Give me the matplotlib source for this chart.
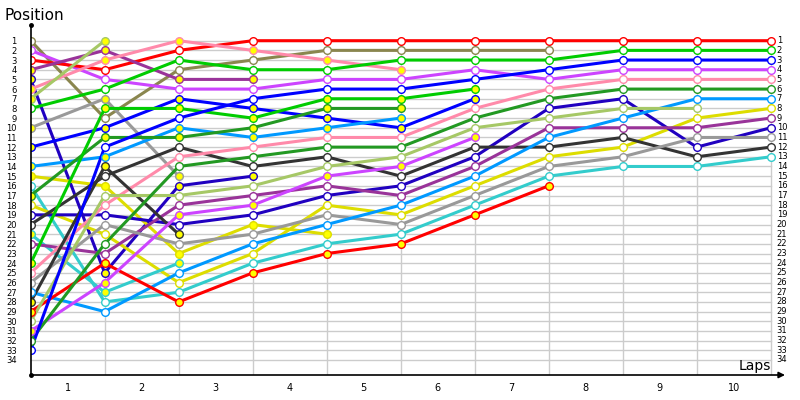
import matplotlib
matplotlib.use("Agg")
import matplotlib.pyplot as plt

# Lap chart: position of each car at the end of every lap (lap 0 = grid)
laps = list(range(0, 11))
lap_labels = [str(i) for i in range(1, 11)]
position_labels = list(range(1, 35))

car_01 = [1, 9, 4, 3, 2, 2, 2, 2]
car_02 = [2, 5, 6, 6, 5, 5, 4, 5, 4, 4, 4]
car_03 = [3, 4, 2, 1, 1, 1, 1, 1, 1, 1, 1]
car_04 = [4, 2, 5, 5]
car_05 = [5, 25, 16, 15]
car_06 = [6, 3, 1, 2, 3, 4]
car_07 = [7, 1]
car_08 = [8, 6, 3, 4, 4, 3, 3, 3, 2, 2, 2]
car_10 = [10, 7, 15]
car_12 = [12, 10, 7, 8, 9, 10, 7]
car_14 = [14, 13, 10, 11, 10, 9]
car_15 = [15, 16, 23, 20, 21]
car_16 = [16, 28, 27, 24, 22, 21, 18, 15, 14, 14, 13]
car_17 = [17, 11, 11, 10, 8, 8]
car_18 = [18, 21, 26, 23, 18, 19, 16, 13, 12, 9, 8]
car_19 = [19, 19, 20, 19, 17, 16, 13, 8, 7, 12, 10]
car_20 = [20, 15, 12, 14, 13, 15, 12, 12, 11, 13, 12]
car_21 = [21, 27, 24]
car_22 = [22, 23, 18, 17, 16, 17, 14, 10, 10, 10, 9]
car_24 = [24, 8, 8, 9, 7, 7, 6]
car_25 = [25, 18, 13, 12, 11, 11, 8, 6, 5, 5, 5]
car_26 = [26, 20, 22, 21, 19, 20, 17, 14, 13, 11, 11]
car_27 = [27, 29, 25, 22, 20, 18, 15, 11, 9, 7, 7]
car_28 = [28, 14, 21]
car_29 = [29, 24, 28, 25, 23, 22, 19, 16]
car_30 = [30, 17, 17, 16, 14, 13, 10, 9, 8, 8]
car_31 = [31, 26, 19, 18, 15, 14, 11]
car_32 = [32, 22, 14, 13, 12, 12, 9, 7, 6, 6, 6]
car_33 = [33, 12, 9, 7, 6, 6, 5, 4, 3, 3, 3]

cars = [car_01, car_02, car_03, car_04, car_05, car_06, car_07, car_08,
        car_10, car_12, car_14, car_15, car_16, car_17, car_18, car_19,
        car_20, car_21, car_22, car_24, car_25, car_26, car_27, car_28,
        car_29, car_30, car_31, car_32, car_33]

car_colors = ['#8a864e', '#cc44ff', '#ff0000', '#993399', '#2000c0', '#ff8aaa',
              '#a6c866', '#00cc00', '#999999', '#0000ff', '#0099ff', '#dddd00',
              '#33cccc', '#229922', '#dddd00', '#2000c0', '#333333', '#33cccc',
              '#993399', '#00cc00', '#ff8aaa', '#999999', '#0099ff', '#333333',
              '#ff0000', '#a6c866', '#cc44ff', '#229922', '#0000ff']

# retired cars get a yellow marker
retired = [False, False, False, True, True, True, True, False, True, True,
           True, True, False, True, False, False, False, True, False, True,
           False, False, False, True, True, False, True, False, False]

W, H = 800, 400
x0, x_step = 30.7, 74.0
y1, y_step = 40.7, 9.675
ax_right, ax_top, ax_bottom = 785.0, 25.0, 375.0

fig = plt.figure(figsize=(8, 4), dpi=100)
ax = fig.add_axes([x0 / W, (H - ax_bottom) / H, (ax_right - x0) / W, (ax_bottom - ax_top) / H])
ax.set_xlim(0, (ax_right - x0) / x_step)
ax.set_ylim(1 + (ax_bottom - y1) / y_step, 1 + (ax_top - y1) / y_step)
for s in ax.spines.values():
    s.set_visible(False)

# grid
for p in position_labels:
    ax.plot([0, 10], [p, p], color='#cccccc', lw=1, zorder=1)
for lap in laps[1:]:
    ax.plot([lap, lap], [1, ax.get_ylim()[0]], color='#cccccc', lw=1, zorder=1)

# axes
ymax, ymin = ax.get_ylim()
ax.plot([0, 0], [ymax, ymin], color='black', lw=1.2, zorder=4, clip_on=False)
ax.plot([0], [ymin], 'o', color='black', ms=2.5, zorder=4, clip_on=False)
ax.plot([0], [ymax], 'o', color='black', ms=2.5, zorder=4, clip_on=False)
ax.annotate('', xy=(1.0, 0), xytext=(0, 0), xycoords='axes fraction',
            arrowprops=dict(arrowstyle='-|>', color='black', lw=1.2,
                            mutation_scale=9, shrinkA=0, shrinkB=0))

# lines then markers
for pos, col in zip(cars, car_colors):
    ax.plot(laps[:len(pos)], pos, color=col, lw=2.2, zorder=2, solid_capstyle='butt')
for pos, col, dnf in zip(cars, car_colors, retired):
    ax.plot(laps[:len(pos)], pos, ls='none', marker='o', ms=5.5, mew=1.0,
            mec=col, mfc='#ffff00' if dnf else 'white', zorder=3)

# ticks and labels
ax.set_xticks([i - 0.5 for i in range(1, 11)])
ax.set_xticklabels(lap_labels, fontsize=7)
ax.tick_params(axis='x', length=0, pad=6)
ax.set_yticks(position_labels)
ax.set_yticklabels([str(p) for p in position_labels], fontsize=6)
ax.tick_params(axis='y', length=0, pad=10)
for p in position_labels:
    ax.text(10 + 6 / x_step, p, str(p), fontsize=6, va='center', ha='left')

fig.text(5 / W, 1 - 15 / H, 'Position', fontsize=11, va='center', ha='left')
fig.text(739 / W, 1 - 366 / H, 'Laps', fontsize=10, va='center', ha='left')

fig.savefig('out.png', dpi=100)
